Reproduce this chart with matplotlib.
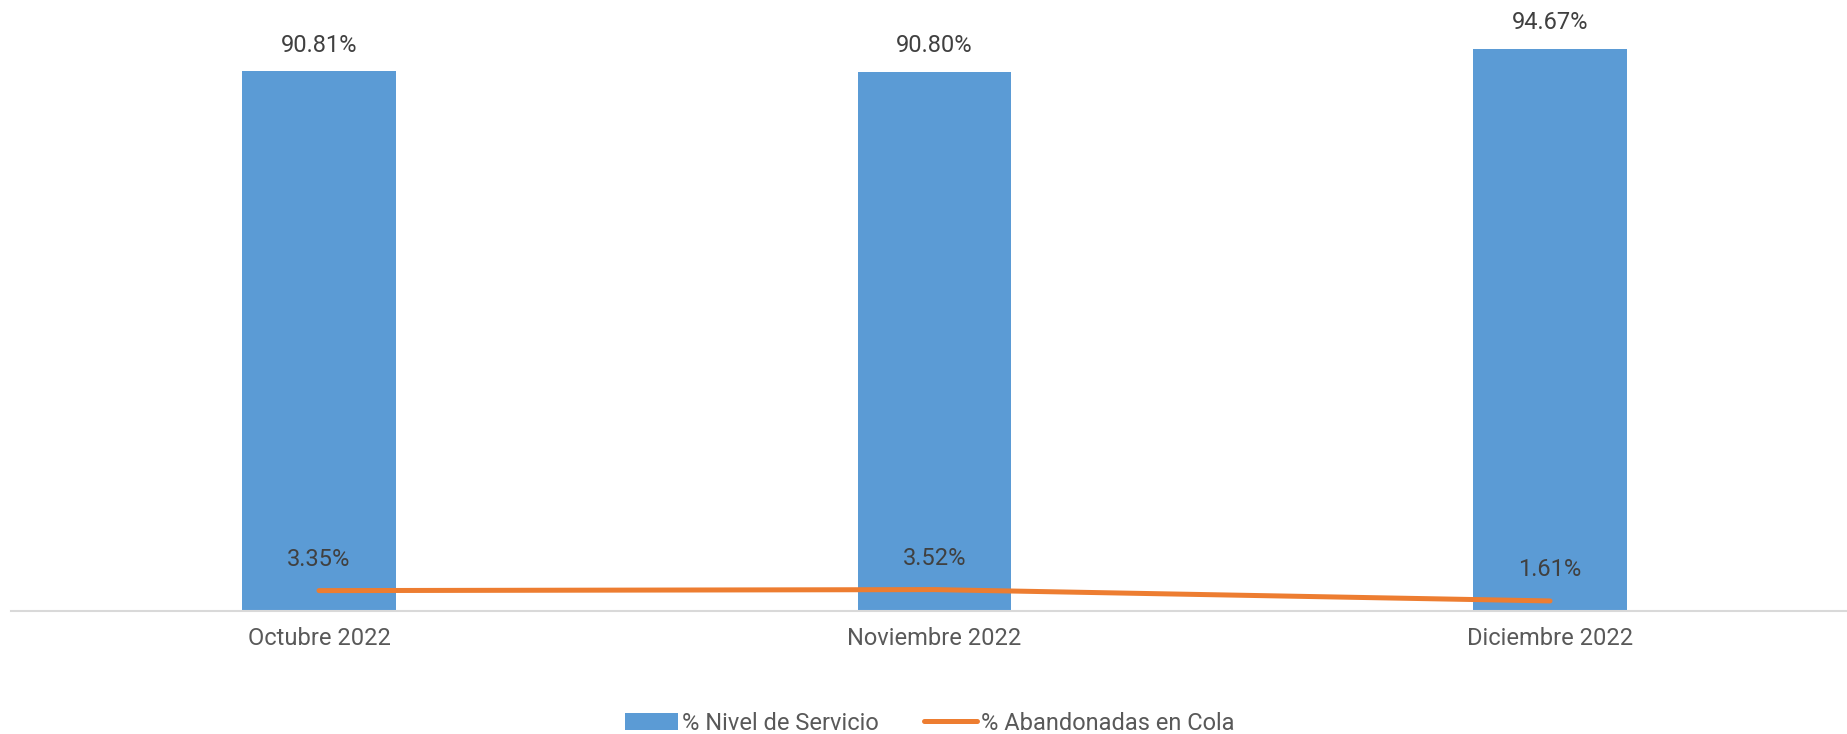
import matplotlib
matplotlib.use("Agg")
import matplotlib.pyplot as plt
from matplotlib.lines import Line2D
from matplotlib.patches import Patch

categories = ["Octubre 2022", "Noviembre 2022", "Diciembre 2022"]
nivel_servicio = [90.81, 90.80, 94.67]
abandonadas = [3.35, 3.52, 1.61]
series_names = ["% Nivel de Servicio", "% Abandonadas en Cola"]

BLUE = "#5B9BD5"
ORANGE = "#ED7D31"
plt.rcParams["font.family"] = ["Roboto", "DejaVu Sans"]

W, H = 1847, 734
fig = plt.figure(figsize=(W / 100, H / 100), dpi=100)
left = 11.25 / W
width = 1846.5 / W
bottom = (H - 610.5) / H
height = 593.6 / H
ax = fig.add_axes([left, bottom, width, height])

x = list(range(len(categories)))
ax.bar(x, nivel_servicio, width=0.25, color=BLUE, zorder=2)
ax.plot(x, abandonadas, color=ORANGE, lw=3.6, solid_capstyle="round", zorder=3)

for xi, v in zip(x, nivel_servicio):
    ax.annotate(f"{v:.2f}%", (xi, v), xytext=(0, 18.5), textcoords="offset points",
                ha="center", va="center", fontsize=17, color="#404040")
for xi, v in zip(x, abandonadas):
    ax.annotate(f"{v:.2f}%", (xi, v), xytext=(0, 22.5), textcoords="offset points",
                ha="center", va="center", fontsize=17, color="#404040")

ax.set_xlim(-0.5, len(categories) - 0.5)
ax.set_ylim(0, 100)
ax.set_xticks(x)
ax.set_xticklabels(categories, fontsize=17, color="#595959")
ax.tick_params(axis="x", length=0, pad=12)
ax.set_yticks([])
for s in ["top", "right", "left"]:
    ax.spines[s].set_visible(False)
ax.spines["bottom"].set_color("#D9D9D9")
ax.spines["bottom"].set_linewidth(1.5)

handles = [Patch(facecolor=BLUE, edgecolor="none"),
           Line2D([0], [0], color=ORANGE, lw=3.6, solid_capstyle="round")]
leg = fig.legend(handles, series_names, loc="center", bbox_to_anchor=(930 / W, 1 - 723 / H),
                 ncol=2, frameon=False, fontsize=17, handlelength=2.25, handletextpad=0.17,
                 columnspacing=1.9, labelcolor="#595959", borderaxespad=0, borderpad=0)

fig.savefig("out.png", dpi=100)
